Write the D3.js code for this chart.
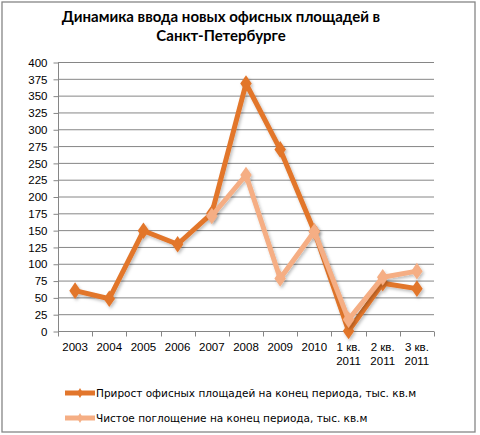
<!DOCTYPE html>
<html>
<head>
<meta charset="utf-8">
<script src="https://cdn.jsdelivr.net/npm/d3@7"></script>
<style>
  body { margin: 0; background: #fff; }
  text { fill: #000; }
</style>
</head>
<body>
<script>
var width = 480, height = 435

// data
var categories = ["2003", "2004", "2005", "2006", "2007", "2008", "2009", "2010", "1 кв.|2011", "2 кв.|2011", "3 кв.|2011"]
var growth = [60, 48, 149, 129, 175, 368, 270, 148, 0, 71, 63]
var absorption = [null, null, null, null, 171, 232, 78, 148, 17, 80, 89]
var yTicks = d3.range(0, 401, 25)
var seriesNames = ["Прирост офисных площадей на конец периода, тыс. кв.м",
                   "Чистое поглощение на конец периода, тыс. кв.м"]
var colors = ["#E2762C", "#F5AE84"]

var svg = d3.select("body").append("svg")
    .attr("width", width)
    .attr("height", height)

var defs = svg.append("defs")
defs.append("filter").attr("id", "shadow")
    .attr("x", "-20%").attr("y", "-20%").attr("width", "140%").attr("height", "140%")
  .append("feDropShadow")
    .attr("dx", 1.5).attr("dy", 2).attr("stdDeviation", 1.5)
    .attr("flood-color", "#000").attr("flood-opacity", 0.25)

// outer frame
svg.append("rect")
    .attr("x", 2).attr("y", 2)
    .attr("width", 473).attr("height", 430)
    .attr("fill", "#fff")
    .attr("stroke", "#868686").attr("stroke-width", 1.3)

// title
var title = svg.append("text")
    .attr("text-anchor", "middle")
    .style("font-family", "Lato, 'Open Sans', sans-serif")
    .style("font-weight", "bold")
    .style("font-size", "15px")
title.append("tspan").attr("x", 221).attr("y", 22).text("Динамика ввода новых офисных площадей в")
title.append("tspan").attr("x", 221).attr("y", 41).text("Санкт-Петербурге")

var x = d3.scaleBand().domain(categories).range([58, 434])
var y = d3.scaleLinear().domain([0, 400]).range([331, 62])

// gridlines
svg.append("g").selectAll("line")
    .data(yTicks.filter(function(d) { return d > 0 }))
    .enter().append("line")
    .attr("x1", 58).attr("x2", 434)
    .attr("y1", function(d) { return y(d) + 0.5 })
    .attr("y2", function(d) { return y(d) + 0.5 })
    .attr("stroke", "#868686").attr("stroke-width", 1)

// y axis
var yAxis = svg.append("g")
    .attr("transform", "translate(58.5,0.5)")
    .call(d3.axisLeft(y).tickValues(yTicks).tickSize(5).tickPadding(6))
yAxis.select(".domain").attr("stroke", "#868686").attr("d", "M0," + y(400) + "V" + y(0))
yAxis.selectAll(".tick line").attr("stroke", "#868686")
yAxis.selectAll("text")
    .style("font-family", "'Liberation Sans', Arial, sans-serif")
    .style("font-size", "11.5px")
    .attr("fill", "#000")

// x axis
var xAxis = svg.append("g")
    .attr("transform", "translate(0," + (y(0) + 0.5) + ")")
xAxis.append("line")
    .attr("x1", 58).attr("x2", 434)
    .attr("stroke", "#868686")
xAxis.selectAll(".xt")
    .data(categories.map(function(c) { return x(c) }).concat([434]))
    .enter().append("line")
    .attr("x1", function(d) { return Math.round(d) + 0.5 })
    .attr("x2", function(d) { return Math.round(d) + 0.5 })
    .attr("y1", 0).attr("y2", 5)
    .attr("stroke", "#868686")
var xl = xAxis.selectAll(".xl")
    .data(categories)
    .enter().append("text")
    .attr("text-anchor", "middle")
    .style("font-family", "'Liberation Sans', Arial, sans-serif")
    .style("font-size", "11.5px")
xl.each(function(d) {
  var parts = d.split("|")
  var t = d3.select(this)
  parts.forEach(function(p, i) {
    t.append("tspan")
      .attr("x", x(d) + x.bandwidth() / 2)
      .attr("y", 19 + i * 14)
      .text(p)
  })
})

// series
var series = [growth, absorption]
var line = d3.line()
    .defined(function(d) { return d != null })
    .x(function(d, i) { return x(categories[i]) + x.bandwidth() / 2 })
    .y(function(d) { return y(d) })
var diamond = d3.symbol().type(d3.symbolDiamond).size(80)

series.forEach(function(vals, s) {
  var g = svg.append("g").attr("filter", "url(#shadow)")
  g.append("path")
    .datum(vals)
    .attr("d", line)
    .attr("fill", "none")
    .attr("stroke", colors[s])
    .attr("stroke-width", 5)
    .attr("stroke-linejoin", "round")
  g.selectAll("path.m")
    .data(vals.map(function(v, i) { return {v: v, i: i} }).filter(function(d) { return d.v != null }))
    .enter().append("path")
    .attr("class", "m")
    .attr("d", diamond)
    .attr("transform", function(d) {
      return "translate(" + (x(categories[d.i]) + x.bandwidth() / 2) + "," + y(d.v) + ") scale(1.2,1)"
    })
    .attr("fill", colors[s])
})

// legend
var legend = svg.append("g")
seriesNames.forEach(function(name, s) {
  var ly = 393 + s * 25
  var lg = legend.append("g")
  lg.append("line")
    .attr("x1", 65).attr("x2", 95)
    .attr("y1", ly).attr("y2", ly)
    .attr("stroke", colors[s]).attr("stroke-width", 5)
  lg.append("path")
    .attr("d", d3.symbol().type(d3.symbolDiamond).size(30))
    .attr("transform", "translate(80," + ly + ")")
    .attr("fill", colors[s])
  lg.append("text")
    .attr("x", 96).attr("y", ly + 4)
    .style("font-family", "'DejaVu Sans', Verdana, sans-serif")
    .style("font-size", "10.5px")
    .text(name)
})
</script>
</body>
</html>
